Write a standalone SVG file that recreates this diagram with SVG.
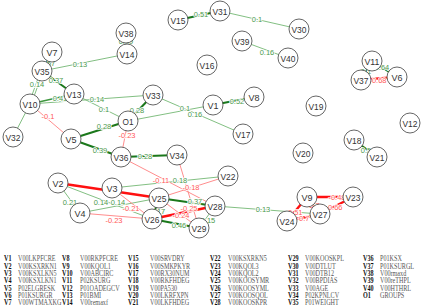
<svg xmlns="http://www.w3.org/2000/svg" width="423" height="308" viewBox="0 0 423 308">
<style>
.p1{stroke:#74b874;stroke-width:0.9;fill:none}
.p2{stroke:#3d963d;stroke-width:1.4;fill:none}
.p3{stroke:#1b781b;stroke-width:2;fill:none}
.n1{stroke:#ff8080;stroke-width:0.9;fill:none}
.n2{stroke:#ff3a3a;stroke-width:1.6;fill:none}
.n3{stroke:#ff1010;stroke-width:2.4;fill:none}
.lp{font-family:"Liberation Sans",Arial,sans-serif;font-size:7.5px;fill:#4c9a4c;text-anchor:middle;stroke:#fff;stroke-width:1.6;paint-order:stroke}
.ln{font-family:"Liberation Sans",Arial,sans-serif;font-size:7.5px;fill:#ff5a5a;text-anchor:middle;stroke:#fff;stroke-width:1.6;paint-order:stroke}
.node circle{fill:#fff;stroke:#555;stroke-width:0.9}
.node text{font-family:"Liberation Sans",Arial,sans-serif;font-size:9.5px;fill:#333;text-anchor:middle}
.lg text{font-family:"Liberation Serif","Times New Roman",serif;font-size:7.5px}
.lg .k{font-weight:bold;fill:#111}
.lg .v{fill:#555}
</style>
<rect width="423" height="308" fill="#fff"/>
<g id="edges">
<line class="p3" x1="178" y1="20" x2="220" y2="11"/>
<line class="p1" x1="220" y1="11" x2="299" y2="29"/>
<line class="p1" x1="242" y1="41" x2="288" y2="58"/>
<line class="p3" x1="126" y1="33" x2="127" y2="54"/>
<line class="p1" x1="127" y1="54" x2="42" y2="71"/>
<line class="p3" x1="52" y1="52" x2="42" y2="71"/>
<line class="p1" x1="43.1" y1="71.4" x2="31.1" y2="104.4"/>
<line class="p1" x1="40.9" y1="70.6" x2="28.9" y2="103.6"/>
<line class="p3" x1="42" y1="71" x2="74" y2="94"/>
<line class="p2" x1="30" y1="104" x2="74" y2="94"/>
<line class="p1" x1="30" y1="104" x2="153" y2="95"/>
<line class="p1" x1="30" y1="104" x2="13" y2="137"/>
<line class="n1" x1="30" y1="104" x2="71" y2="139"/>
<line class="p1" x1="74" y1="94" x2="128" y2="121"/>
<line class="p3" x1="153" y1="95" x2="128" y2="121"/>
<line class="p1" x1="153" y1="95" x2="243" y2="134"/>
<line class="p1" x1="128" y1="121" x2="213" y2="105"/>
<line class="p3" x1="213" y1="105" x2="254" y2="97"/>
<line class="p3" x1="71" y1="139" x2="128" y2="121"/>
<line class="p3" x1="71" y1="139" x2="121" y2="157"/>
<line class="n1" x1="128" y1="121" x2="121" y2="157"/>
<line class="p3" x1="121" y1="157" x2="177" y2="155"/>
<line class="n1" x1="121" y1="157" x2="215" y2="206"/>
<line class="n1" x1="177" y1="155" x2="199" y2="228"/>
<line class="p1" x1="112" y1="188" x2="228" y2="176"/>
<line class="n1" x1="228" y1="176" x2="159" y2="198"/>
<line class="n3" x1="58" y1="183" x2="159" y2="198"/>
<line class="p1" x1="58" y1="183" x2="80" y2="213"/>
<line class="p1" x1="58" y1="183" x2="152" y2="219"/>
<line class="p1" x1="80" y1="213" x2="159" y2="198"/>
<line class="n1" x1="112" y1="188" x2="152" y2="219"/>
<line class="n1" x1="80" y1="213" x2="152" y2="219"/>
<line class="p3" x1="159" y1="198" x2="152" y2="219"/>
<line class="p3" x1="159" y1="198" x2="215" y2="206"/>
<line class="n3" x1="152" y1="219" x2="215" y2="206"/>
<line class="n1" x1="159" y1="198" x2="199" y2="228"/>
<line class="p3" x1="152" y1="219" x2="199" y2="228"/>
<line class="p1" x1="215" y1="206" x2="199" y2="228"/>
<line class="p1" x1="215" y1="206" x2="320" y2="214"/>
<line class="n3" x1="307" y1="197" x2="353" y2="197"/>
<line class="n3" x1="307" y1="197" x2="287" y2="221"/>
<line class="n2" x1="307" y1="197" x2="320" y2="214"/>
<line class="n3" x1="287" y1="221" x2="320" y2="214"/>
<line class="n3" x1="353" y1="197" x2="320" y2="214"/>
<line class="p3" x1="372" y1="61" x2="397" y2="77"/>
<line class="p3" x1="372" y1="61" x2="361" y2="80"/>
<line class="n3" x1="361" y1="80" x2="397" y2="77"/>
<line class="p3" x1="354" y1="140" x2="377" y2="157"/>
<text class="lp" x="201" y="17">0.51</text>
<text class="lp" x="257" y="22">0.1</text>
<text class="lp" x="267" y="55">0.16</text>
<text class="lp" x="126" y="44">0.49</text>
<text class="lp" x="80" y="67">0.13</text>
<text class="lp" x="48" y="66">0.57</text>
<text class="lp" x="37" y="87">0.14</text>
<text class="lp" x="56" y="83">0.37</text>
<text class="lp" x="60" y="101">0.41</text>
<text class="lp" x="97" y="102">0.14</text>
<text class="ln" x="48" y="119">-0.1</text>
<text class="lp" x="104" y="112">0.1</text>
<text class="lp" x="137" y="113">0.28</text>
<text class="lp" x="185" y="111">0.1</text>
<text class="lp" x="195" y="117">0.16</text>
<text class="lp" x="237" y="104">0.52</text>
<text class="lp" x="104" y="129">0.28</text>
<text class="lp" x="100" y="153">0.39</text>
<text class="ln" x="127" y="138">-0.23</text>
<text class="lp" x="145" y="159">0.28</text>
<text class="ln" x="161" y="183">-0.11</text>
<text class="lp" x="180" y="183">0.18</text>
<text class="ln" x="191" y="190">-0.18</text>
<text class="lp" x="70" y="205">0.21</text>
<text class="lp" x="101" y="205">0.14</text>
<text class="lp" x="118" y="205">0.14</text>
<text class="ln" x="131" y="211">-0.21</text>
<text class="ln" x="114" y="223">-0.23</text>
<text class="lp" x="158" y="214">0.17</text>
<text class="lp" x="195" y="204">0.37</text>
<text class="ln" x="189" y="211">-0.25</text>
<text class="ln" x="181" y="218">-0.24</text>
<text class="lp" x="179" y="228">0.46</text>
<text class="lp" x="208" y="223">0.15</text>
<text class="lp" x="263" y="212">0.13</text>
<text class="ln" x="337" y="200">-0.48</text>
<text class="ln" x="294" y="215">-0.51</text>
<text class="ln" x="313" y="208">-0.7</text>
<text class="ln" x="303" y="221">-0.7</text>
<text class="ln" x="334" y="210">-0.66</text>
<text class="lp" x="382" y="70">0.64</text>
<text class="lp" x="366" y="74">0.1</text>
<text class="ln" x="378" y="83">-0.68</text>
<text class="lp" x="366" y="153">0.5</text>
</g>
<g id="V1" class="node"><circle cx="213" cy="105" r="10"/><text x="213" y="108.5" textLength="11" lengthAdjust="spacingAndGlyphs">V1</text></g>
<g id="V2" class="node"><circle cx="58" cy="183" r="10"/><text x="58" y="186.5" textLength="11" lengthAdjust="spacingAndGlyphs">V2</text></g>
<g id="V3" class="node"><circle cx="112" cy="188" r="10"/><text x="112" y="191.5" textLength="11" lengthAdjust="spacingAndGlyphs">V3</text></g>
<g id="V4" class="node"><circle cx="80" cy="213" r="10"/><text x="80" y="216.5" textLength="11" lengthAdjust="spacingAndGlyphs">V4</text></g>
<g id="V5" class="node"><circle cx="71" cy="139" r="10"/><text x="71" y="142.5" textLength="11" lengthAdjust="spacingAndGlyphs">V5</text></g>
<g id="V6" class="node"><circle cx="397" cy="77" r="10"/><text x="397" y="80.5" textLength="11" lengthAdjust="spacingAndGlyphs">V6</text></g>
<g id="V7" class="node"><circle cx="52" cy="52" r="10"/><text x="52" y="55.5" textLength="11" lengthAdjust="spacingAndGlyphs">V7</text></g>
<g id="V8" class="node"><circle cx="254" cy="97" r="10"/><text x="254" y="100.5" textLength="11" lengthAdjust="spacingAndGlyphs">V8</text></g>
<g id="V9" class="node"><circle cx="307" cy="197" r="10"/><text x="307" y="200.5" textLength="11" lengthAdjust="spacingAndGlyphs">V9</text></g>
<g id="V10" class="node"><circle cx="30" cy="104" r="10"/><text x="30" y="107.5" textLength="15" lengthAdjust="spacingAndGlyphs">V10</text></g>
<g id="V11" class="node"><circle cx="372" cy="61" r="10"/><text x="372" y="64.5" textLength="15" lengthAdjust="spacingAndGlyphs">V11</text></g>
<g id="V12" class="node"><circle cx="410" cy="123" r="10"/><text x="410" y="126.5" textLength="15" lengthAdjust="spacingAndGlyphs">V12</text></g>
<g id="V13" class="node"><circle cx="74" cy="94" r="10"/><text x="74" y="97.5" textLength="15" lengthAdjust="spacingAndGlyphs">V13</text></g>
<g id="V14" class="node"><circle cx="127" cy="54" r="10"/><text x="127" y="57.5" textLength="15" lengthAdjust="spacingAndGlyphs">V14</text></g>
<g id="V15" class="node"><circle cx="178" cy="20" r="10"/><text x="178" y="23.5" textLength="15" lengthAdjust="spacingAndGlyphs">V15</text></g>
<g id="V16" class="node"><circle cx="207" cy="65" r="10"/><text x="207" y="68.5" textLength="15" lengthAdjust="spacingAndGlyphs">V16</text></g>
<g id="V17" class="node"><circle cx="243" cy="134" r="10"/><text x="243" y="137.5" textLength="15" lengthAdjust="spacingAndGlyphs">V17</text></g>
<g id="V18" class="node"><circle cx="354" cy="140" r="10"/><text x="354" y="143.5" textLength="15" lengthAdjust="spacingAndGlyphs">V18</text></g>
<g id="V19" class="node"><circle cx="316" cy="106" r="10"/><text x="316" y="109.5" textLength="15" lengthAdjust="spacingAndGlyphs">V19</text></g>
<g id="V20" class="node"><circle cx="303" cy="153" r="10"/><text x="303" y="156.5" textLength="15" lengthAdjust="spacingAndGlyphs">V20</text></g>
<g id="V21" class="node"><circle cx="377" cy="157" r="10"/><text x="377" y="160.5" textLength="15" lengthAdjust="spacingAndGlyphs">V21</text></g>
<g id="V22" class="node"><circle cx="228" cy="176" r="10"/><text x="228" y="179.5" textLength="15" lengthAdjust="spacingAndGlyphs">V22</text></g>
<g id="V23" class="node"><circle cx="353" cy="197" r="10"/><text x="353" y="200.5" textLength="15" lengthAdjust="spacingAndGlyphs">V23</text></g>
<g id="V24" class="node"><circle cx="287" cy="221" r="10"/><text x="287" y="224.5" textLength="15" lengthAdjust="spacingAndGlyphs">V24</text></g>
<g id="V25" class="node"><circle cx="159" cy="198" r="10"/><text x="159" y="201.5" textLength="15" lengthAdjust="spacingAndGlyphs">V25</text></g>
<g id="V26" class="node"><circle cx="152" cy="219" r="10"/><text x="152" y="222.5" textLength="15" lengthAdjust="spacingAndGlyphs">V26</text></g>
<g id="V27" class="node"><circle cx="320" cy="214" r="10"/><text x="320" y="217.5" textLength="15" lengthAdjust="spacingAndGlyphs">V27</text></g>
<g id="V28" class="node"><circle cx="215" cy="206" r="10"/><text x="215" y="209.5" textLength="15" lengthAdjust="spacingAndGlyphs">V28</text></g>
<g id="V29" class="node"><circle cx="199" cy="228" r="10"/><text x="199" y="231.5" textLength="15" lengthAdjust="spacingAndGlyphs">V29</text></g>
<g id="V30" class="node"><circle cx="299" cy="29" r="10"/><text x="299" y="32.5" textLength="15" lengthAdjust="spacingAndGlyphs">V30</text></g>
<g id="V31" class="node"><circle cx="220" cy="11" r="10"/><text x="220" y="14.5" textLength="15" lengthAdjust="spacingAndGlyphs">V31</text></g>
<g id="V32" class="node"><circle cx="13" cy="137" r="10"/><text x="13" y="140.5" textLength="15" lengthAdjust="spacingAndGlyphs">V32</text></g>
<g id="V33" class="node"><circle cx="153" cy="95" r="10"/><text x="153" y="98.5" textLength="15" lengthAdjust="spacingAndGlyphs">V33</text></g>
<g id="V34" class="node"><circle cx="177" cy="155" r="10"/><text x="177" y="158.5" textLength="15" lengthAdjust="spacingAndGlyphs">V34</text></g>
<g id="V35" class="node"><circle cx="42" cy="71" r="10"/><text x="42" y="74.5" textLength="15" lengthAdjust="spacingAndGlyphs">V35</text></g>
<g id="V36" class="node"><circle cx="121" cy="157" r="10"/><text x="121" y="160.5" textLength="15" lengthAdjust="spacingAndGlyphs">V36</text></g>
<g id="V37" class="node"><circle cx="361" cy="80" r="10"/><text x="361" y="83.5" textLength="15" lengthAdjust="spacingAndGlyphs">V37</text></g>
<g id="V38" class="node"><circle cx="126" cy="33" r="10"/><text x="126" y="36.5" textLength="15" lengthAdjust="spacingAndGlyphs">V38</text></g>
<g id="V39" class="node"><circle cx="242" cy="41" r="10"/><text x="242" y="44.5" textLength="15" lengthAdjust="spacingAndGlyphs">V39</text></g>
<g id="V40" class="node"><circle cx="288" cy="58" r="10"/><text x="288" y="61.5" textLength="15" lengthAdjust="spacingAndGlyphs">V40</text></g>
<g id="O1" class="node"><circle cx="128" cy="121" r="10"/><text x="128" y="124.5" textLength="11" lengthAdjust="spacingAndGlyphs">O1</text></g>
<g id="legend" class="lg" transform="scale(0.82,1)">
<text class="k" x="4.9" y="261.5">V1</text><text class="v" x="22" y="261.5">V00LKPFCRE</text>
<text class="k" x="4.9" y="268.8">V2</text><text class="v" x="22" y="268.8">V00KSXRKN1</text>
<text class="k" x="4.9" y="276.2">V3</text><text class="v" x="22" y="276.2">V00KSXLKN5</text>
<text class="k" x="4.9" y="283.5">V4</text><text class="v" x="22" y="283.5">V00KSXLKN1</text>
<text class="k" x="4.9" y="290.8">V5</text><text class="v" x="22" y="290.8">P02ELGRESK</text>
<text class="k" x="4.9" y="298.2">V6</text><text class="v" x="22" y="298.2">P01KSURGR</text>
<text class="k" x="4.9" y="305.5">V7</text><text class="v" x="22" y="305.5">V00WTMAXKG</text>
<text class="k" x="75.6" y="261.5">V8</text><text class="v" x="97.6" y="261.5">V00RKPFCRE</text>
<text class="k" x="75.6" y="268.8">V9</text><text class="v" x="97.6" y="268.8">V00KQOL1</text>
<text class="k" x="75.6" y="276.2">V10</text><text class="v" x="97.6" y="276.2">V00ABCIRC</text>
<text class="k" x="75.6" y="283.5">V11</text><text class="v" x="97.6" y="283.5">P02KSURG</text>
<text class="k" x="75.6" y="290.8">V12</text><text class="v" x="97.6" y="290.8">P01OADEGCV</text>
<text class="k" x="75.6" y="298.2">V13</text><text class="v" x="97.6" y="298.2">P01BMI</text>
<text class="k" x="75.6" y="305.5">V14</text><text class="v" x="97.6" y="305.5">V00remaxf</text>
<text class="k" x="156.1" y="261.5">V15</text><text class="v" x="182.9" y="261.5">V00SRVDRY</text>
<text class="k" x="156.1" y="268.8">V16</text><text class="v" x="182.9" y="268.8">V00SMKPKYR</text>
<text class="k" x="156.1" y="276.2">V17</text><text class="v" x="182.9" y="276.2">V00RX30NUM</text>
<text class="k" x="156.1" y="283.5">V18</text><text class="v" x="182.9" y="283.5">V00RKFHDEG</text>
<text class="k" x="156.1" y="290.8">V19</text><text class="v" x="182.9" y="290.8">V00PA530</text>
<text class="k" x="156.1" y="298.2">V20</text><text class="v" x="182.9" y="298.2">V00LKRFXPN</text>
<text class="k" x="156.1" y="305.5">V21</text><text class="v" x="182.9" y="305.5">V00LKFHDEG</text>
<text class="k" x="256.1" y="261.5">V22</text><text class="v" x="278" y="261.5">V00KSXRKN5</text>
<text class="k" x="256.1" y="268.8">V23</text><text class="v" x="278" y="268.8">V00KQOL3</text>
<text class="k" x="256.1" y="276.2">V24</text><text class="v" x="278" y="276.2">V00KQOL2</text>
<text class="k" x="256.1" y="283.5">V25</text><text class="v" x="278" y="283.5">V00KOOSYMR</text>
<text class="k" x="256.1" y="290.8">V26</text><text class="v" x="278" y="290.8">V00KOOSYML</text>
<text class="k" x="256.1" y="298.2">V27</text><text class="v" x="278" y="298.2">V00KOOSQOL</text>
<text class="k" x="256.1" y="305.5">V28</text><text class="v" x="278" y="305.5">V00KOOSKPR</text>
<text class="k" x="351.2" y="261.5">V29</text><text class="v" x="372" y="261.5">V00KOOSKPL</text>
<text class="k" x="351.2" y="268.8">V30</text><text class="v" x="372" y="268.8">V00DTLUT</text>
<text class="k" x="351.2" y="276.2">V31</text><text class="v" x="372" y="276.2">V00DTB12</text>
<text class="k" x="351.2" y="283.5">V32</text><text class="v" x="372" y="283.5">V00BPDIAS</text>
<text class="k" x="351.2" y="290.8">V33</text><text class="v" x="372" y="290.8">V00AGE</text>
<text class="k" x="351.2" y="298.2">V34</text><text class="v" x="372" y="298.2">P02KPNLCV</text>
<text class="k" x="351.2" y="305.5">V35</text><text class="v" x="372" y="305.5">P01WEIGHT</text>
<text class="k" x="442.7" y="261.5">V36</text><text class="v" x="463.4" y="261.5">P01KSX</text>
<text class="k" x="442.7" y="268.8">V37</text><text class="v" x="463.4" y="268.8">P01KSURGL</text>
<text class="k" x="442.7" y="276.2">V38</text><text class="v" x="463.4" y="276.2">V00rmaxd</text>
<text class="k" x="442.7" y="283.5">V39</text><text class="v" x="463.4" y="283.5">V00reTHPL</text>
<text class="k" x="442.7" y="290.8">V40</text><text class="v" x="463.4" y="290.8">V00HTHRL</text>
<text class="k" x="442.7" y="298.2">O1</text><text class="v" x="463.4" y="298.2">GROUPS</text>
</g>
</svg>
